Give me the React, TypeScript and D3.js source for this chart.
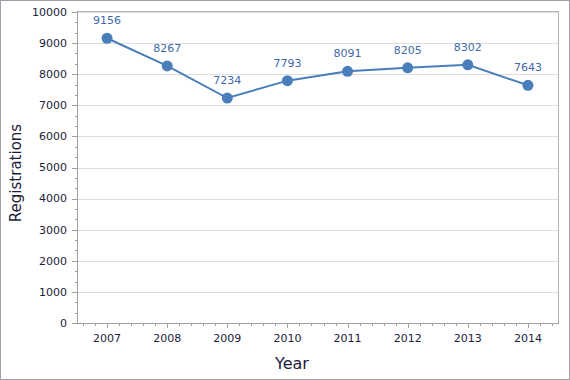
import React from "react";
import * as d3 from "d3";

const years = ["2007", "2008", "2009", "2010", "2011", "2012", "2013", "2014"];
const registrations = [9156, 8267, 7234, 7793, 8091, 8205, 8302, 7643];
const yTicks = [0, 1000, 2000, 3000, 4000, 5000, 6000, 7000, 8000, 9000, 10000];

const W = 570, H = 380;
const L = 77, R = 558, T = 12, B = 323;

export default function App() {
  const x = d3.scaleBand<string>().domain(years).range([L, R]);
  const y = d3.scaleLinear().domain([0, 10000]).range([B, T]);
  const cx = (d: string) => (x(d) as number) + x.bandwidth() / 2;
  const line = d3.line<number>().x((_, i) => cx(years[i])).y((v) => y(v));
  const bw = x.bandwidth();
  const minorX: number[] = [];
  years.forEach((yr) => {
    for (let k = -2; k <= 2; k++) if (k !== 0) minorX.push(cx(yr) + (k * bw) / 5);
  });
  const minorY: number[] = [];
  for (let i = 0; i < 10; i++) {
    minorY.push(i * 1000 + 333.33, i * 1000 + 666.67);
  }
  const font = "Tahoma, 'DejaVu Sans', Verdana, sans-serif";
  return (
    <svg width={W} height={H} style={{ position: "absolute", left: 0, top: 0 }}>
      <rect x={0.5} y={0.5} width={W - 1} height={H - 1} fill="#fff" stroke="#a0a0aa" />
      {yTicks.map((t) => (
        <line key={"g" + t} x1={L} x2={R} y1={Math.round(y(t)) + 0.5} y2={Math.round(y(t)) + 0.5} stroke="#dedede" />
      ))}
      <line x1={L} x2={R} y1={T - 0.5} y2={T - 0.5} stroke="#b4b4b4" />
      <line x1={R + 0.5} x2={R + 0.5} y1={T - 1} y2={B} stroke="#b4b4b4" />
      <line x1={L + 0.5} x2={L + 0.5} y1={T - 1} y2={B + 1} stroke="#a0a0a0" />
      <line x1={L - 5} x2={R + 1} y1={B + 0.5} y2={B + 0.5} stroke="#a0a0a0" />
      {yTicks.map((t) => (
        <g key={"t" + t}>
          <line x1={L - 5} x2={L} y1={Math.round(y(t)) + 0.5} y2={Math.round(y(t)) + 0.5} stroke="#a0a0a0" />
          <text x={L - 10} y={y(t)} dy="0.35em" textAnchor="end" fontSize={11} fill="#1c1c3c" fontFamily={font}>{t}</text>
        </g>
      ))}
      {minorY.map((t, i) => (
        <line key={"my" + i} x1={L - 2} x2={L} y1={Math.round(y(t)) + 0.5} y2={Math.round(y(t)) + 0.5} stroke="#a0a0a0" />
      ))}
      {years.map((yr) => (
        <g key={"x" + yr}>
          <line x1={Math.round(cx(yr)) + 0.5} x2={Math.round(cx(yr)) + 0.5} y1={B} y2={B + 5} stroke="#a0a0a0" />
          <text x={cx(yr)} y={B + 19} textAnchor="middle" fontSize={11} fill="#1c1c3c" fontFamily={font}>{yr}</text>
        </g>
      ))}
      {minorX.map((v, i) => (
        <line key={"mx" + i} x1={Math.round(v) + 0.5} x2={Math.round(v) + 0.5} y1={B} y2={B + 3} stroke="#a0a0a0" />
      ))}
      <path d={line(registrations) || ""} fill="none" stroke="#4a7ebb" strokeWidth={2} />
      {registrations.map((v, i) => (
        <g key={"p" + i}>
          <circle cx={cx(years[i])} cy={y(v)} r={5.5} fill="#4a7ebb" />
          <text x={cx(years[i])} y={y(v) - 14} textAnchor="middle" fontSize={11} fill="#3f69a8" fontFamily={font}>{v}</text>
        </g>
      ))}
      <text transform={`translate(21,173) rotate(-90)`} textAnchor="middle" fontSize={15} fill="#1c1c3c" fontFamily={font}>Registrations</text>
      <text x={292} y={369} textAnchor="middle" fontSize={16} fill="#1c1c3c" fontFamily={font}>Year</text>
    </svg>
  );
}
